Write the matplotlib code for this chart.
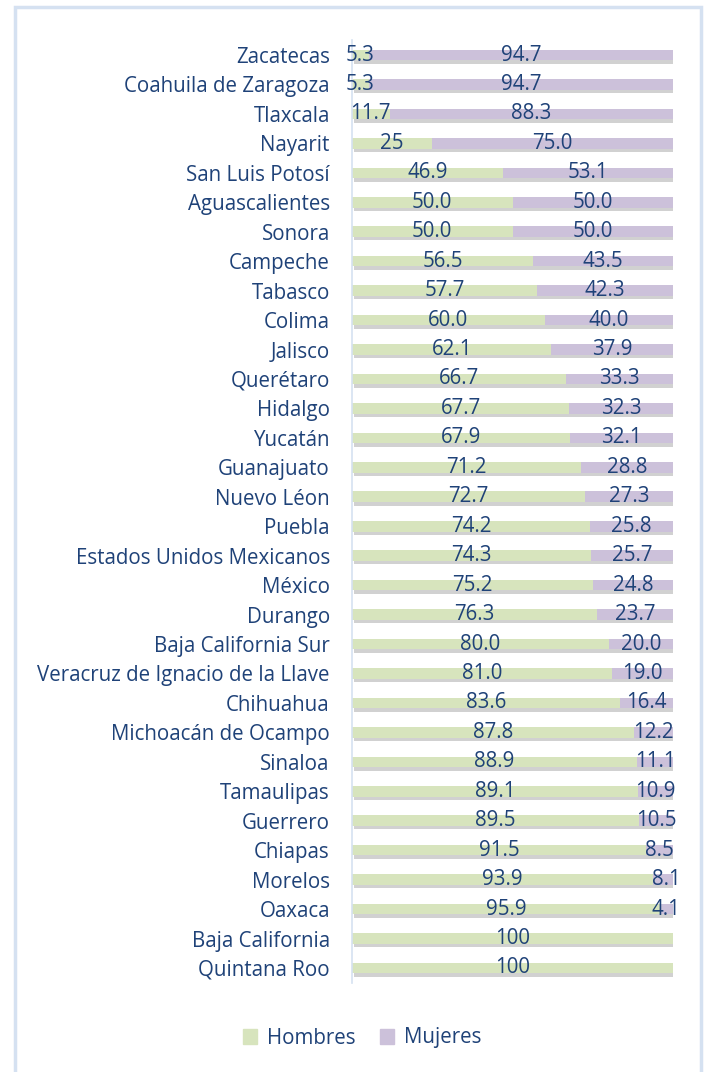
import matplotlib.pyplot as plt
import matplotlib.patheffects as pe
from matplotlib import patches

# data (top to bottom, as printed on the chart)
estados = ["Zacatecas", "Coahuila de Zaragoza", "Tlaxcala", "Nayarit", "San Luis Potosí",
           "Aguascalientes", "Sonora", "Campeche", "Tabasco", "Colima", "Jalisco",
           "Querétaro", "Hidalgo", "Yucatán", "Guanajuato", "Nuevo Léon", "Puebla",
           "Estados Unidos Mexicanos", "México", "Durango", "Baja California Sur",
           "Veracruz de Ignacio de la Llave", "Chihuahua", "Michoacán de Ocampo",
           "Sinaloa", "Tamaulipas", "Guerrero", "Chiapas", "Morelos", "Oaxaca",
           "Baja California", "Quintana Roo"]
hombres = ["5.3", "5.3", "11.7", "25", "46.9", "50.0", "50.0", "56.5", "57.7", "60.0",
           "62.1", "66.7", "67.7", "67.9", "71.2", "72.7", "74.2", "74.3", "75.2", "76.3",
           "80.0", "81.0", "83.6", "87.8", "88.9", "89.1", "89.5", "91.5", "93.9", "95.9",
           "100", "100"]
mujeres = ["94.7", "94.7", "88.3", "75.0", "53.1", "50.0", "50.0", "43.5", "42.3", "40.0",
           "37.9", "33.3", "32.3", "32.1", "28.8", "27.3", "25.8", "25.7", "24.8", "23.7",
           "20.0", "19.0", "16.4", "12.2", "11.1", "10.9", "10.5", "8.5", "8.1", "4.1",
           "", ""]

GREEN = "#D7E4BD"
PURPLE = "#CCC1DA"
TEXT = "#1F4278"
BORDER = "#D5E1F1"
FONT = "Open Sans"
SIZE = 14.8
BAR_H = 0.36

plt.rcParams["font.family"] = [FONT, "DejaVu Sans"]

fig = plt.figure(figsize=(7.07, 10.72), dpi=100)
ax = fig.add_axes([352 / 707, 1 - 982.7 / 1072, 321 / 707, (982.7 - 40.3) / 1072])

y = list(range(len(estados)))
h_vals = [float(v) for v in hombres]
m_vals = [float(v) if v else 0.0 for v in mujeres]

shadow = [pe.SimplePatchShadow(offset=(1.5, -2.5), shadow_rgbFace="#8c8c8c", alpha=0.4),
          pe.Normal()]
b1 = ax.barh(y, h_vals, height=BAR_H, color=GREEN, label="Hombres")
b2 = ax.barh(y, m_vals, left=h_vals, height=BAR_H, color=PURPLE, label="Mujeres")
for bar in list(b1) + list(b2):
    bar.set_path_effects(shadow)

for yi, h, m, ht, mt in zip(y, h_vals, m_vals, hombres, mujeres):
    ax.text(h / 2, yi, ht, ha="center", va="center", color=TEXT, fontsize=SIZE,
            clip_on=False)
    if mt:
        ax.text(h + m / 2, yi, mt, ha="center", va="center", color=TEXT, fontsize=SIZE,
                clip_on=False)

ax.set_xlim(0, 100)
ax.set_ylim(len(estados) - 0.5, -0.5)
ax.set_yticks(y)
ax.set_yticklabels(estados, color=TEXT, fontsize=SIZE)
ax.tick_params(axis="y", length=0, pad=16)
ax.set_xticks([])
for side in ["top", "right", "bottom"]:
    ax.spines[side].set_visible(False)
ax.spines["left"].set_color(BORDER)
ax.spines["left"].set_linewidth(1.2)

handles = [patches.Patch(color=GREEN), patches.Patch(color=PURPLE)]
leg = fig.legend(handles=handles, labels=["Hombres", "Mujeres"], loc="center",
                 bbox_to_anchor=(0.512, 1 - 1038 / 1072), ncol=2, frameon=False,
                 fontsize=SIZE, handlelength=0.7, handleheight=0.7, columnspacing=1.2,
                 handletextpad=0.45)
for t in leg.get_texts():
    t.set_color(TEXT)

# outer chart border
fig.patches.append(patches.Rectangle((15 / 707, -0.01), 686 / 707, 1 - 7 / 1072 + 0.01,
                                     transform=fig.transFigure, fill=False,
                                     edgecolor=BORDER, linewidth=2.5))

fig.savefig("out.png", dpi=100)
